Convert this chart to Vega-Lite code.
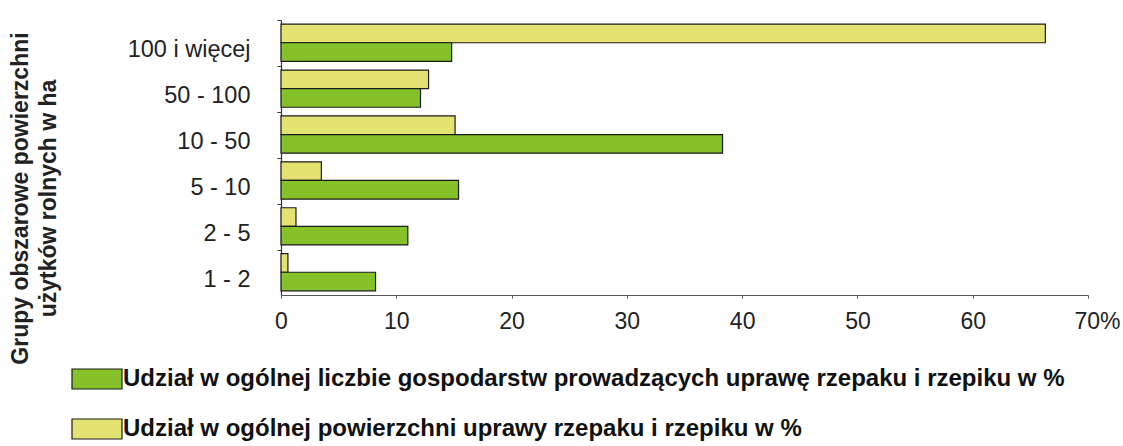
{
  "$schema": "https://vega.github.io/schema/vega-lite/v6.json",
  "width": 807,
  "height": 275,
  "autosize": {"type": "none"},
  "padding": {"left": 281, "top": 20, "right": 35, "bottom": 151},
  "background": "white",
  "config": {
    "view": {"stroke": null},
    "font": "Liberation Sans"
  },
  "data": {
    "values": [
      {"grupa": "100 i więcej", "seria": "Udział w ogólnej powierzchni  uprawy rzepaku  i rzepiku w %", "wartosc": 66.3},
      {"grupa": "100 i więcej", "seria": "Udział w ogólnej liczbie gospodarstw prowadzących uprawę rzepaku i rzepiku w %", "wartosc": 14.8},
      {"grupa": "50 - 100", "seria": "Udział w ogólnej powierzchni  uprawy rzepaku  i rzepiku w %", "wartosc": 12.8},
      {"grupa": "50 - 100", "seria": "Udział w ogólnej liczbie gospodarstw prowadzących uprawę rzepaku i rzepiku w %", "wartosc": 12.1},
      {"grupa": "10 - 50", "seria": "Udział w ogólnej powierzchni  uprawy rzepaku  i rzepiku w %", "wartosc": 15.1},
      {"grupa": "10 - 50", "seria": "Udział w ogólnej liczbie gospodarstw prowadzących uprawę rzepaku i rzepiku w %", "wartosc": 38.3},
      {"grupa": "5 - 10", "seria": "Udział w ogólnej powierzchni  uprawy rzepaku  i rzepiku w %", "wartosc": 3.5},
      {"grupa": "5 - 10", "seria": "Udział w ogólnej liczbie gospodarstw prowadzących uprawę rzepaku i rzepiku w %", "wartosc": 15.4},
      {"grupa": "2 - 5", "seria": "Udział w ogólnej powierzchni  uprawy rzepaku  i rzepiku w %", "wartosc": 1.3},
      {"grupa": "2 - 5", "seria": "Udział w ogólnej liczbie gospodarstw prowadzących uprawę rzepaku i rzepiku w %", "wartosc": 11.0},
      {"grupa": "1 - 2", "seria": "Udział w ogólnej powierzchni  uprawy rzepaku  i rzepiku w %", "wartosc": 0.6},
      {"grupa": "1 - 2", "seria": "Udział w ogólnej liczbie gospodarstw prowadzących uprawę rzepaku i rzepiku w %", "wartosc": 8.2}
    ]
  },
  "mark": {"type": "bar", "stroke": "#1a1a1a", "strokeWidth": 1.2, "cornerRadius": 0},
  "encoding": {
    "y": {
      "field": "grupa",
      "type": "nominal",
      "sort": ["100 i więcej", "50 - 100", "10 - 50", "5 - 10", "2 - 5", "1 - 2"],
      "scale": {"paddingInner": 0.19, "paddingOuter": 0.09},
      "axis": {
        "title": ["Grupy obszarowe powierzchni", "użytków rolnych w ha"],
        "titleFont": "Liberation Sans",
        "titleFontSize": 23,
        "titleFontWeight": "bold",
        "titleColor": "#222222",
        "titleX": -249,
        "titleY": 178,
        "titleAngle": -90,
        "titleAlign": "center",
        "titleBaseline": "bottom",
        "titleLineHeight": 28,
        "bandPosition": 0,
        "tickOffset": -4,
        "labelOffset": 11,
        "labelFontSize": 23.5,
        "labelColor": "#222222",
        "labelPadding": 27,
        "labelBaseline": "middle",
        "tickSize": 4,
        "tickColor": "#333333",
        "domainColor": "#333333",
        "domainWidth": 1.2
      }
    },
    "yOffset": {
      "field": "seria",
      "type": "nominal",
      "sort": ["Udział w ogólnej powierzchni  uprawy rzepaku  i rzepiku w %", "Udział w ogólnej liczbie gospodarstw prowadzących uprawę rzepaku i rzepiku w %"],
      "scale": {"paddingInner": 0, "paddingOuter": 0}
    },
    "x": {
      "field": "wartosc",
      "type": "quantitative",
      "scale": {"domain": [0, 70], "nice": false},
      "axis": {
        "title": null,
        "values": [0, 10, 20, 30, 40, 50, 60, 70],
        "grid": false,
        "labelFlush": false,
        "labelExpr": "datum.value == 70 ? '70%' : datum.label",
        "labelFontSize": 23,
        "labelColor": "#222222",
        "labelPadding": 12,
        "labelOffset": {"condition": {"test": "datum.value == 70", "value": 9}, "value": 0},
        "tickSize": 3,
        "tickColor": "#555555",
        "domainColor": "#555555",
        "domainWidth": 1.2
      }
    },
    "color": {
      "field": "seria",
      "type": "nominal",
      "scale": {
        "domain": ["Udział w ogólnej liczbie gospodarstw prowadzących uprawę rzepaku i rzepiku w %", "Udział w ogólnej powierzchni  uprawy rzepaku  i rzepiku w %"],
        "range": ["#85C129", "#E4E372"]
      },
      "legend": {
        "title": null,
        "orient": "none",
        "legendX": -196,
        "legendY": 347,
        "direction": "vertical",
        "padding": 0,
        "offset": 0,
        "symbolType": "M-2.5,-1H2.5V1H-2.5Z",
        "symbolSize": 400,
        "symbolStrokeColor": "#1a1a1a",
        "symbolStrokeWidth": 1.2,
        "symbolOpacity": 1,
        "labelFontSize": 24,
        "labelFontWeight": "bold",
        "labelColor": "#111111",
        "labelOffset": 14,
        "labelLimit": 1000,
        "rowPadding": 24
      }
    }
  }
}
